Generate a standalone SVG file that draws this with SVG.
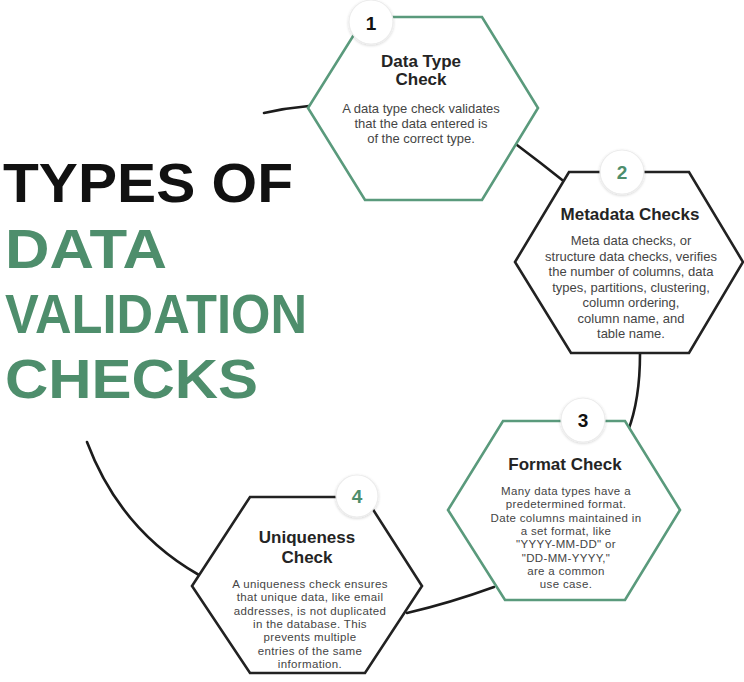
<svg xmlns="http://www.w3.org/2000/svg" width="744" height="682" viewBox="0 0 744 682">
<defs>
<filter id="sh" x="-30%" y="-30%" width="160%" height="160%">
<feGaussianBlur in="SourceAlpha" stdDeviation="1.6"/>
<feOffset dx="0" dy="0.5" result="b"/>
<feComponentTransfer><feFuncA type="linear" slope="0.18"/></feComponentTransfer>
<feMerge><feMergeNode/><feMergeNode in="SourceGraphic"/></feMerge>
</filter>
</defs>
<style>
.hexg{fill:#fff;stroke:#5a9a7c;stroke-width:2.6;stroke-linejoin:miter}
.hexb{fill:#fff;stroke:#222;stroke-width:2.6;stroke-linejoin:miter}
.badge{fill:#fff;stroke:#ececec;stroke-width:1.2;filter:url(#sh)}
.num{font-family:"Liberation Sans",Arial,sans-serif;font-weight:bold;font-size:19px;text-anchor:middle}
.ttl{font-family:"Liberation Sans",Arial,sans-serif;font-weight:bold;font-size:17px;fill:#242424;text-anchor:middle}
.body{font-family:"Liberation Sans",Arial,sans-serif;font-size:13px;fill:#454545;text-anchor:middle}
.sm{font-size:11.5px;letter-spacing:0.35px}
.big{font-family:"Liberation Sans",Arial,sans-serif;font-weight:bold;font-size:56px}
.con{fill:none;stroke:#1c1c1c;stroke-width:2.6;stroke-linecap:round}
</style>
<rect width="744" height="682" fill="#fff"/>

<g id="title">
<text class="big" x="3" y="202" fill="#111" textLength="290" lengthAdjust="spacingAndGlyphs">TYPES OF</text>
<text class="big" x="5" y="268" fill="#4e8e6c" textLength="162" lengthAdjust="spacingAndGlyphs">DATA</text>
<text class="big" x="5" y="333" fill="#4e8e6c" textLength="302" lengthAdjust="spacingAndGlyphs">VALIDATION</text>
<text class="big" x="5" y="398" fill="#4e8e6c" textLength="253" lengthAdjust="spacingAndGlyphs">CHECKS</text>
</g>

<g id="connectors">
<path class="con" d="M264,113 Q286,108 309,106"/>
<path class="con" d="M517,145 Q541,163 566,183"/>
<path class="con" d="M640,354 C640,385 636,410 628,431"/>
<path class="con" d="M494,587 Q450,603 407,613"/>
<path class="con" d="M87,442 Q120,530 199,575"/>
</g>

<g id="node1">
<polygon class="hexg" points="365,17 482,17 538,108 482,200 365,200 308,108"/>
<circle class="badge" cx="371" cy="22" r="22"/>
<text class="num" x="371" y="30" fill="#111">1</text>
<text class="ttl" x="421" y="67">Data Type</text>
<text class="ttl" x="421" y="85">Check</text>
<text class="body" x="421" y="113">A data type check validates</text>
<text class="body" x="421" y="128">that the data entered is</text>
<text class="body" x="421" y="143">of the correct type.</text>
</g>

<g id="node2">
<polygon class="hexb" points="569,172 689,172 743,262 689,353 571,353 515,262"/>
<circle class="badge" cx="622" cy="172" r="22"/>
<text class="num" x="622" y="179" fill="#4e8e6c">2</text>
<text class="ttl" x="630" y="220">Metadata Checks</text>
<text class="body" x="631" y="245">Meta data checks, or</text>
<text class="body" x="631" y="260.5">structure data checks, verifies</text>
<text class="body" x="631" y="276">the number of columns, data</text>
<text class="body" x="631" y="291.5">types, partitions, clustering,</text>
<text class="body" x="631" y="307">column ordering,</text>
<text class="body" x="631" y="322.5">column name, and</text>
<text class="body" x="631" y="338">table name.</text>
</g>

<g id="node3">
<polygon class="hexg" points="503,421 625,421 680,510 625,600 505,600 448,510"/>
<circle class="badge" cx="583" cy="420" r="22"/>
<text class="num" x="583" y="427" fill="#111">3</text>
<text class="ttl" x="565" y="470">Format Check</text>
<text class="body sm" x="566" y="495">Many data types have a</text>
<text class="body sm" x="566" y="508.3">predetermined format.</text>
<text class="body sm" x="566" y="521.6">Date columns maintained in</text>
<text class="body sm" x="566" y="534.9">a set format, like</text>
<text class="body sm" x="566" y="548.2">"YYYY-MM-DD" or</text>
<text class="body sm" x="566" y="561.5">"DD-MM-YYYY,"</text>
<text class="body sm" x="566" y="574.8">are a common</text>
<text class="body sm" x="566" y="588.1">use case.</text>
</g>

<g id="node4">
<polygon class="hexb" points="250,497 365,497 422,586 365,673 250,673 192,586"/>
<circle class="badge" cx="357" cy="496" r="21"/>
<text class="num" x="357" y="503" fill="#4e8e6c">4</text>
<text class="ttl" x="307" y="543">Uniqueness</text>
<text class="ttl" x="307" y="563">Check</text>
<text class="body sm" x="310" y="588">A uniqueness check ensures</text>
<text class="body sm" x="310" y="601.3">that unique data, like email</text>
<text class="body sm" x="310" y="614.6">addresses, is not duplicated</text>
<text class="body sm" x="310" y="627.9">in the database. This</text>
<text class="body sm" x="310" y="641.2">prevents multiple</text>
<text class="body sm" x="310" y="654.5">entries of the same</text>
<text class="body sm" x="310" y="667.8">information.</text>
</g>
</svg>
